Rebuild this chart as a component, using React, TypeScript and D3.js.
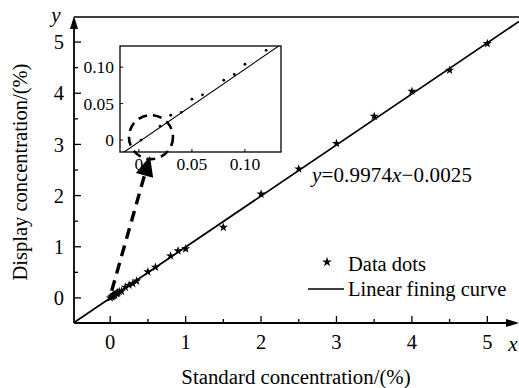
import * as d3 from "d3";
import { useEffect, useRef } from "react";

// standard vs display concentration (%)
const stdConc = [0.002, 0.02, 0.03, 0.04, 0.05, 0.06, 0.08, 0.09, 0.1, 0.12, 0.15, 0.2, 0.25, 0.3, 0.35, 0.5, 0.6, 0.8, 0.9, 1.0, 1.5, 2, 2.5, 3, 3.5, 4, 4.5, 5];
const dispConc = [0.0, 0.019, 0.034, 0.038, 0.056, 0.062, 0.082, 0.09, 0.104, 0.123, 0.13, 0.21, 0.25, 0.28, 0.33, 0.51, 0.6, 0.82, 0.92, 0.96, 1.38, 2.03, 2.52, 3.02, 3.55, 4.04, 4.45, 4.97];

const fitSlope = 0.9974;
const fitIntercept = -0.0025;

const mainTicks = [0, 1, 2, 3, 4, 5];
const mainMinor = [0.5, 1.5, 2.5, 3.5, 4.5];
const insetTicks = [0, 0.05, 0.1];
const insetTickLabels = ["0", "0.05", "0.10"];

const W = 519;
const H = 388;
const FONT = "'Liberation Serif', 'Times New Roman', serif";

export default function App() {
  const svgRef = useRef<SVGSVGElement | null>(null);

  useEffect(() => {
    if (!svgRef.current) return;
    const svg = d3.select(svgRef.current);
    svg.selectAll("*").remove();

    const x = d3.scaleLinear().domain([-0.48, 5.42]).range([74, 519]);
    const y = d3.scaleLinear().domain([-0.49, 5.49]).range([323, 17]);

    const pts = stdConc.map((v, i) => ({ x: v, y: dispConc[i] }));

    const defs = svg.append("defs");
    defs
      .append("clipPath")
      .attr("id", "mainClip")
      .append("rect")
      .attr("x", x(-0.48))
      .attr("y", y(5.49))
      .attr("width", x(5.42) - x(-0.48))
      .attr("height", y(-0.49) - y(5.49));

    // frame top line
    svg
      .append("line")
      .attr("x1", x(-0.48))
      .attr("x2", W)
      .attr("y1", y(5.49))
      .attr("y2", y(5.49))
      .attr("stroke", "#000")
      .attr("stroke-width", 1.5);

    // axes with arrows
    const x0 = x(-0.48);
    const yb = y(-0.49);
    svg
      .append("line")
      .attr("x1", x0)
      .attr("x2", x0)
      .attr("y1", yb)
      .attr("y2", y(5.49) + 6)
      .attr("stroke", "#000")
      .attr("stroke-width", 1.8);
    svg
      .append("path")
      .attr("d", `M${x0},${y(5.49) - 1}L${x0 - 4},${y(5.49) + 12}L${x0 + 4},${y(5.49) + 12}Z`)
      .attr("fill", "#000");
    svg
      .append("line")
      .attr("x1", x0)
      .attr("x2", W - 6)
      .attr("y1", yb)
      .attr("y2", yb)
      .attr("stroke", "#000")
      .attr("stroke-width", 1.8);
    svg
      .append("path")
      .attr("d", `M${W},${yb}L${W - 13},${yb - 4}L${W - 13},${yb + 4}Z`)
      .attr("fill", "#000");

    // ticks
    const tk = svg.append("g").attr("stroke", "#000").attr("stroke-width", 1.3);
    mainTicks.forEach((t) => {
      tk.append("line").attr("x1", x(t)).attr("x2", x(t)).attr("y1", yb).attr("y2", yb - 7);
      tk.append("line").attr("x1", x0).attr("x2", x0 + 7).attr("y1", y(t)).attr("y2", y(t));
    });
    mainMinor.forEach((t) => {
      tk.append("line").attr("x1", x(t)).attr("x2", x(t)).attr("y1", yb).attr("y2", yb - 4);
      tk.append("line").attr("x1", x0).attr("x2", x0 + 4).attr("y1", y(t)).attr("y2", y(t));
    });

    const lab = svg.append("g").attr("font-family", FONT).attr("fill", "#000");
    mainTicks.forEach((t) => {
      lab
        .append("text")
        .attr("x", x(t))
        .attr("y", 349)
        .attr("text-anchor", "middle")
        .attr("font-size", 20.5)
        .text(String(t));
      lab
        .append("text")
        .attr("x", 64)
        .attr("y", y(t))
        .attr("dy", "0.35em")
        .attr("text-anchor", "end")
        .attr("font-size", 20.5)
        .text(String(t));
    });
    lab
      .append("text")
      .attr("x", 56)
      .attr("y", 22)
      .attr("text-anchor", "middle")
      .attr("font-size", 21)
      .attr("font-style", "italic")
      .text("y");
    lab
      .append("text")
      .attr("x", 513)
      .attr("y", 351)
      .attr("text-anchor", "middle")
      .attr("font-size", 21)
      .attr("font-style", "italic")
      .text("x");
    lab
      .append("text")
      .attr("x", 296)
      .attr("y", 384)
      .attr("text-anchor", "middle")
      .attr("font-size", 20.8)
      .text("Standard concentration/(%)");
    lab
      .append("text")
      .attr("transform", "translate(27,172) rotate(-90)")
      .attr("text-anchor", "middle")
      .attr("font-size", 20.5)
      .text("Display concentration/(%)");

    // fit line
    const fitLine = d3
      .line<number>()
      .x((d) => x(d))
      .y((d) => y(fitSlope * d + fitIntercept));
    svg
      .append("path")
      .attr("clip-path", "url(#mainClip)")
      .attr("d", fitLine([-0.48, 5.42]))
      .attr("fill", "none")
      .attr("stroke", "#000")
      .attr("stroke-width", 1.8);

    // stars
    const star = d3.symbol().type(d3.symbolStar).size(26);
    svg
      .append("g")
      .selectAll("path")
      .data(pts)
      .join("path")
      .attr("transform", (d) => `translate(${x(d.x)},${y(d.y)})`)
      .attr("d", star)
      .attr("fill", "#000");

    // equation
    const eq = lab
      .append("text")
      .attr("x", 312)
      .attr("y", 182)
      .attr("font-size", 21)
      .attr("textLength", 160);
    eq.append("tspan").attr("font-style", "italic").text("y");
    eq.append("tspan").text("=0.9974");
    eq.append("tspan").attr("font-style", "italic").text("x");
    eq.append("tspan").text("\u22120.0025");

    // legend
    svg
      .append("path")
      .attr("transform", "translate(327,262)")
      .attr("d", d3.symbol().type(d3.symbolStar).size(30)())
      .attr("fill", "#000");
    lab.append("text").attr("x", 348).attr("y", 271).attr("font-size", 20.5).text("Data dots");
    svg
      .append("line")
      .attr("x1", 308)
      .attr("x2", 344)
      .attr("y1", 289)
      .attr("y2", 289)
      .attr("stroke", "#000")
      .attr("stroke-width", 1.5);
    lab.append("text").attr("x", 348).attr("y", 296).attr("font-size", 20.5).text("Linear fining curve");

    // inset
    const ix = d3.scaleLinear().domain([-0.0178, 0.134]).range([120, 281]);
    const iy = d3.scaleLinear().domain([-0.0164, 0.129]).range([152, 46]);
    const [il, ir] = ix.range();
    const [ib, it] = iy.range();
    defs
      .append("clipPath")
      .attr("id", "insetClip")
      .append("rect")
      .attr("x", il)
      .attr("y", it)
      .attr("width", ir - il)
      .attr("height", ib - it);
    const inset = svg.append("g");
    inset
      .append("rect")
      .attr("x", il)
      .attr("y", it)
      .attr("width", ir - il)
      .attr("height", ib - it)
      .attr("fill", "#fff")
      .attr("stroke", "#000")
      .attr("stroke-width", 1.3);
    const itk = inset.append("g").attr("stroke", "#000").attr("stroke-width", 1);
    insetTicks.forEach((t, i) => {
      itk.append("line").attr("x1", ix(t)).attr("x2", ix(t)).attr("y1", ib).attr("y2", ib - 3);
      itk.append("line").attr("x1", il).attr("x2", il + 3).attr("y1", iy(t)).attr("y2", iy(t));
      inset
        .append("text")
        .attr("x", ix(t))
        .attr("y", 170)
        .attr("text-anchor", "middle")
        .attr("font-family", FONT)
        .attr("font-size", 17.5)
        .text(insetTickLabels[i]);
      inset
        .append("text")
        .attr("x", 114)
        .attr("y", iy(t))
        .attr("dy", "0.35em")
        .attr("text-anchor", "end")
        .attr("font-family", FONT)
        .attr("font-size", 17.5)
        .text(insetTickLabels[i]);
    });
    const iLine = d3
      .line<number>()
      .x((d) => ix(d))
      .y((d) => iy(fitSlope * d + fitIntercept));
    inset
      .append("path")
      .attr("clip-path", "url(#insetClip)")
      .attr("d", iLine(ix.domain()))
      .attr("fill", "none")
      .attr("stroke", "#000")
      .attr("stroke-width", 1.1);
    inset
      .append("g")
      .selectAll("circle")
      .data(pts.filter((d) => d.x <= 0.125))
      .join("circle")
      .attr("cx", (d) => ix(d.x))
      .attr("cy", (d) => iy(d.y))
      .attr("r", 1.4)
      .attr("fill", "#000");

    // dashed zoom circle + arrow
    const cx = ix(0.0114);
    const cy = iy(0.004);
    svg
      .append("ellipse")
      .attr("cx", cx)
      .attr("cy", cy)
      .attr("rx", 22)
      .attr("ry", 22)
      .attr("fill", "none")
      .attr("stroke", "#000")
      .attr("stroke-width", 2.6)
      .attr("stroke-dasharray", "9,6");

    const sx = x(0.02);
    const sy = y(0.14);
    const tx = cx - 1;
    const ty = cy + 19;
    const len = Math.hypot(tx - sx, ty - sy);
    const ux = (tx - sx) / len;
    const uy = (ty - sy) / len;
    const headL = 20;
    const headW = 9;
    const bx = tx - ux * headL;
    const by = ty - uy * headL;
    svg
      .append("line")
      .attr("x1", sx)
      .attr("y1", sy)
      .attr("x2", bx)
      .attr("y2", by)
      .attr("stroke", "#000")
      .attr("stroke-width", 3.4)
      .attr("stroke-dasharray", "11,7");
    svg
      .append("path")
      .attr("d", `M${tx},${ty}L${bx - uy * headW},${by + ux * headW}L${bx + uy * headW},${by - ux * headW}Z`)
      .attr("fill", "#000");
  }, []);

  return (
    <svg
      ref={svgRef}
      width={W}
      height={H}
      style={{ position: "absolute", left: 0, top: 0, display: "block", background: "#fff" }}
      role="img"
      aria-label="Display vs standard concentration"
    />
  );
}
